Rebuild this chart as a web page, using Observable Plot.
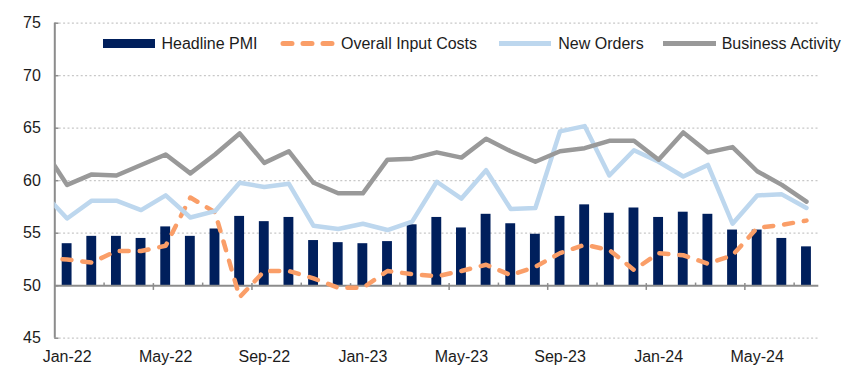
<!DOCTYPE html>
<html>
<head>
<meta charset="utf-8">
<script src="https://cdn.jsdelivr.net/npm/d3@7"></script>
<script src="https://cdn.jsdelivr.net/npm/@observablehq/plot@0.6"></script>
<style>
  html, body { margin: 0; padding: 0; background: #fff; }
  #wrap { position: relative; width: 855px; height: 375px; font-family: "Liberation Sans", Arial, sans-serif; }
  #wrap > svg { position: absolute; left: 0; top: 0; }
</style>
</head>
<body>
<div id="wrap"></div>
<script>
// Month labels (Dec-21 is only a lead-in point for the lines, clipped at the axis)
const months = ["Dec-21",
  "Jan-22","Feb-22","Mar-22","Apr-22","May-22","Jun-22","Jul-22","Aug-22","Sep-22","Oct-22","Nov-22","Dec-22",
  "Jan-23","Feb-23","Mar-23","Apr-23","May-23","Jun-23","Jul-23","Aug-23","Sep-23","Oct-23","Nov-23","Dec-23",
  "Jan-24","Feb-24","Mar-24","Apr-24","May-24","Jun-24","Jul-24"];
const headlinePMI = [null,
  54.0, 54.7, 54.7, 54.5, 55.6, 54.7, 55.4, 56.6, 56.1, 56.5, 54.3, 54.1,
  54.0, 54.2, 55.8, 56.5, 55.5, 56.8, 55.9, 54.9, 56.6, 57.7, 56.9, 57.4,
  56.5, 57.0, 56.8, 55.3, 55.3, 54.5, 53.7];
const inputCosts = [52.6,
  52.5, 52.2, 53.3, 53.3, 53.8, 58.4, 57.0, 48.9, 51.4, 51.4, 50.7, 49.8,
  49.8, 51.4, 51.1, 50.9, 51.4, 52.0, 51.0, 51.8, 53.1, 53.9, 53.4, 51.5,
  53.1, 52.9, 52.1, 52.9, 55.5, 55.8, 56.2];
const newOrders = [58.9,
  56.4, 58.1, 58.1, 57.2, 58.6, 56.5, 57.1, 59.8, 59.4, 59.7, 55.7, 55.4,
  55.9, 55.3, 56.1, 59.9, 58.3, 61.0, 57.3, 57.4, 64.7, 65.2, 60.5, 62.9,
  61.8, 60.4, 61.5, 55.9, 58.6, 58.7, 57.4];
const businessActivity = [63.2,
  59.6, 60.6, 60.5, 61.5, 62.5, 60.7, 62.5, 64.5, 61.7, 62.8, 59.8, 58.8,
  58.8, 62.0, 62.1, 62.7, 62.2, 64.0, 62.8, 61.8, 62.8, 63.1, 63.8, 63.8,
  62.0, 64.6, 62.7, 63.2, 60.9, 59.6, 58.0];
const yTicks = [45, 50, 55, 60, 65, 70, 75];
const labelTicks = ["Jan-22","May-22","Sep-22","Jan-23","May-23","Sep-23","Jan-24","May-24"];
const seriesNames = ["Headline PMI", "Overall Input Costs", "New Orders", "Business Activity"];
const colors = { headline: "#001F5C", input: "#FA9E68", orders: "#BDD7EE", activity: "#999999" };
const textColor = "#1C1C1C";
const baseline = 50;

const data = months.map((m, k) => ({
  i: k - 1, label: m,
  headline: headlinePMI[k], input: inputCosts[k], orders: newOrders[k], activity: businessActivity[k]
}));
const bars = data.filter(d => d.headline != null);
const nCat = bars.length;
const boundaries = d3.range(1, nCat - 1).map(k => k + 0.5);
const majorB = boundaries.filter(b => (b + 0.5) % 4 === 0);
const minorB = boundaries.filter(b => (b + 0.5) % 2 === 0 && (b + 0.5) % 4 !== 0);
const labelIdx = labelTicks.map(l => months.indexOf(l) - 1);

const axisGray = "#8C8C8C";
const chart = Plot.plot({
  width: 855, height: 375,
  marginLeft: 54.3, marginRight: 36.7, marginTop: 22.7, marginBottom: 37.3,
  x: { type: "linear", domain: [-0.5, nCat - 0.5], axis: null },
  y: { domain: [45, 75], axis: null },
  style: { fontFamily: "'Liberation Sans', Arial, sans-serif", fontSize: "16px", color: textColor, background: "transparent" },
  marks: [
    Plot.ruleY(yTicks.filter(v => v !== baseline), { stroke: "#C8C8C8", strokeWidth: 1.3, strokeDasharray: "2,2.4" }),
    Plot.rectY(bars, { x1: d => d.i - 0.2, x2: d => d.i + 0.2, y1: baseline, y2: "headline", fill: colors.headline }),
    Plot.ruleY([baseline], { stroke: axisGray, strokeWidth: 2 }),
    Plot.ruleX(majorB, { y1: baseline + 0.2, y2: baseline - 0.45, stroke: axisGray, strokeWidth: 1.5 }),
    Plot.ruleX(minorB, { y1: baseline, y2: baseline + 0.25, stroke: axisGray, strokeWidth: 1.5 }),
    Plot.ruleX([-0.5], { y1: 45, y2: 75, stroke: axisGray, strokeWidth: 2 }),
    Plot.ruleY(yTicks, { x1: -0.5, x2: -0.5 + 0.17, stroke: axisGray, strokeWidth: 1.5 }),
    Plot.line(data, { x: "i", y: "input", stroke: colors.input, strokeWidth: 4.5, strokeDasharray: "9,11", strokeLinecap: "round", strokeLinejoin: "round", clip: true }),
    Plot.line(data, { x: "i", y: "orders", stroke: colors.orders, strokeWidth: 4.5, strokeLinejoin: "round", clip: true }),
    Plot.line(data, { x: "i", y: "activity", stroke: colors.activity, strokeWidth: 4.5, strokeLinejoin: "round", clip: true }),
    Plot.axisY({ ticks: yTicks, tickSize: 0, tickPadding: 14, label: null, fontSize: 16, fill: textColor }),
    Plot.axisX({ ticks: labelIdx, tickSize: 0, tickPadding: 12, label: null, tickFormat: i => months[i + 1], fontSize: 16, fill: textColor })
  ]
});
document.getElementById("wrap").appendChild(chart);

// Legend overlay
const ns = "http://www.w3.org/2000/svg";
const leg = document.createElementNS(ns, "svg");
leg.setAttribute("width", 855); leg.setAttribute("height", 375);
leg.style.pointerEvents = "none";
const items = [
  { name: seriesNames[0], kind: "rect", color: colors.headline, x0: 103, x1: 155, tx: 161.5 },
  { name: seriesNames[1], kind: "dash", color: colors.input, x0: 283, x1: 333, tx: 341 },
  { name: seriesNames[2], kind: "line", color: colors.orders, x0: 499, x1: 551, tx: 558.3 },
  { name: seriesNames[3], kind: "line", color: colors.activity, x0: 663, x1: 716, tx: 721.7 }
];
const cy = 43.5;
for (const it of items) {
  if (it.kind === "rect") {
    const r = document.createElementNS(ns, "rect");
    r.setAttribute("x", it.x0); r.setAttribute("y", cy - 4.5);
    r.setAttribute("width", it.x1 - it.x0); r.setAttribute("height", 9);
    r.setAttribute("fill", it.color); leg.appendChild(r);
  } else {
    const l = document.createElementNS(ns, "line");
    l.setAttribute("x1", it.x0); l.setAttribute("x2", it.x1);
    l.setAttribute("y1", cy); l.setAttribute("y2", cy);
    l.setAttribute("stroke", it.color); l.setAttribute("stroke-width", 5);
    if (it.kind === "dash") { l.setAttribute("stroke-dasharray", "9,11"); l.setAttribute("stroke-linecap", "round"); }
    leg.appendChild(l);
  }
  const t = document.createElementNS(ns, "text");
  t.setAttribute("x", it.tx); t.setAttribute("y", 49.3);
  t.setAttribute("font-family", "'Liberation Sans', Arial, sans-serif");
  t.setAttribute("font-size", 16); t.setAttribute("fill", textColor);
  t.textContent = it.name; leg.appendChild(t);
}
document.getElementById("wrap").appendChild(leg);
</script>
</body>
</html>
